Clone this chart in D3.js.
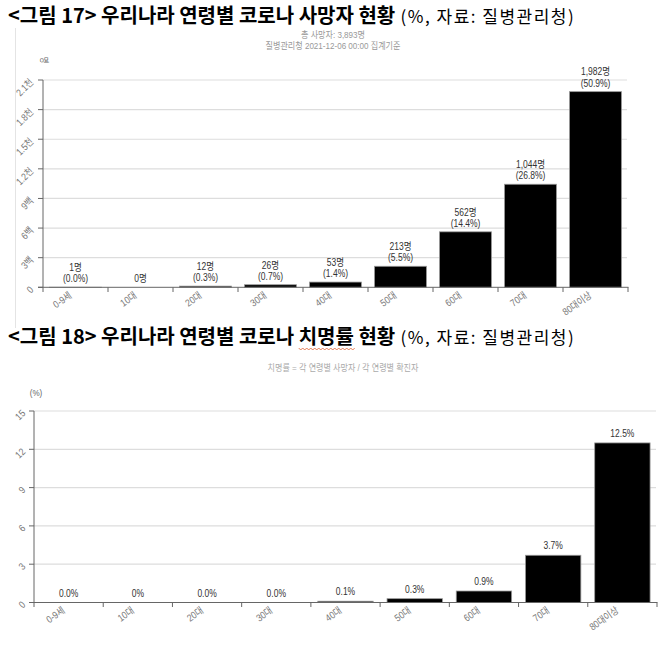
<!DOCTYPE html>
<html><head><meta charset="utf-8">
<script src="https://cdn.jsdelivr.net/npm/d3@7"></script>
<style>
html,body{margin:0;padding:0;background:#fff;}
svg{display:block;font-family:"Noto Sans CJK KR","Noto Sans",sans-serif;}
</style></head>
<body>
<svg id="chart" width="665" height="647"></svg>
<script>
// ---------- data ----------
const ageGroups = ["0-9세","10대","20대","30대","40대","50대","60대","70대","80대이상"];
const deaths = [1, 0, 12, 26, 53, 213, 562, 1044, 1982];
const deathShare = ["0.0", null, "0.3", "0.7", "1.4", "5.5", "14.4", "26.8", "50.9"];
const deathTicks = [0, 300, 600, 900, 1200, 1500, 1800, 2100];
const deathTickLabels = ["0","3백","6백","9백","1.2천","1.5천","1.8천","2.1천"];
const fatality = [0.0, 0, 0.0, 0.0, 0.1, 0.3, 0.9, 3.7, 12.5];
const fatalityLabels = ["0.0%","0%","0.0%","0.0%","0.1%","0.3%","0.9%","3.7%","12.5%"];
const fatalityTicks = [0, 3, 6, 9, 12, 15];

const title1 = "<그림 17> 우리나라 연령별 코로나 사망자 현황";
const title2a = "<그림 18> 우리나라 연령별 코로나 ";
const title2b = "치명률";
const title2c = " 현황";
const titleNote = " (%, 자료: 질병관리청)";
const sub1a = "총 사망자: 3,893명";
const sub1b = "질병관리청 2021-12-06 00:00 집계기준";
const sub2 = "치명률 = 각 연령별 사망자 / 각 연령별 확진자";

const svg = d3.select("#chart");
const SX = 0.85; // horizontal condensation of small chart text
const SMALL_FONT = "'Liberation Sans','Noto Sans CJK KR',sans-serif";

function cText(parent, x, y, lines, o = {}) {
  const g = parent.append("g")
    .attr("transform", `translate(${x},${y}) rotate(${o.rot||0}) scale(${o.sx||SX},1)`);
  const arr = Array.isArray(lines) ? lines : [lines];
  const lh = o.lh || 10.5;
  arr.forEach((s, k) => {
    g.append("text")
      .attr("font-family", o.font || SMALL_FONT)
      .attr("text-anchor", o.anchor || "middle")
      .attr("font-size", o.size || 10)
      .attr("fill", o.fill || "#333")
      .attr("y", (k - (arr.length - 1)) * lh).text(s);
  });
  return g;
}

// frame line at left of first chart image
svg.append("line").attr("x1",15.5).attr("x2",15.5).attr("y1",28).attr("y2",328)
  .attr("stroke","#e4e4e4");

// ---------- titles ----------
const t1 = svg.append("text").attr("x", 8).attr("y", 23);
t1.append("tspan").text(title1).attr("font-size", 20).attr("font-weight", "bold").attr("fill","#000");
t1.append("tspan").text(titleNote).attr("font-size", 17).attr("letter-spacing", 1.5).attr("fill","#000");

const t2 = svg.append("text").attr("x", 8).attr("y", 344);
t2.append("tspan").text(title2a).attr("font-size", 20).attr("font-weight", "bold").attr("fill","#000");
t2.append("tspan").text(title2b).attr("font-size", 20).attr("font-weight", "bold").attr("fill","#000");
t2.append("tspan").text(title2c).attr("font-size", 20).attr("font-weight", "bold").attr("fill","#000");
t2.append("tspan").text(titleNote).attr("font-size", 17).attr("letter-spacing", 1.5).attr("fill","#000");
// spell-check squiggle under 치명률
(function(){
  const node = t2.node();
  const i0 = title2a.length, i1 = i0 + title2b.length - 1;
  const xs = node.getStartPositionOfChar(i0).x, xe = node.getEndPositionOfChar(i1).x;
  let d = `M${xs},348`;
  for (let x = xs, k = 0; x < xe; x += 2, k++) d += `L${x+2},${k%2? 348 : 350}`;
  svg.append("path").attr("d", d).attr("fill","none").attr("stroke","#e06030").attr("stroke-width",0.8);
})();

// ---------- chart 1 ----------
cText(svg, 333, 49, [sub1a, sub1b], {size: 9.5, fill: "#999", lh: 11, sx: 0.85});
svg.append("g").attr("transform","translate(41,60) rotate(90) scale(0.8,1)")
  .append("text").text("명").attr("font-size",9).attr("fill","#666").attr("text-anchor","middle");

const x1 = d3.scaleBand().domain(ageGroups).range([43, 628]).paddingInner(0.2).paddingOuter(0.1);
const y1 = d3.scaleLinear().domain([0, 2100]).range([287.3, 80]);
const c1 = svg.append("g");
svg.append("clipPath").attr("id","clip1").append("rect").attr("x",16).attr("y",28).attr("width",640).attr("height",300);
const c1clip = svg.append("g").attr("clip-path","url(#clip1)");

c1.selectAll("line.grid").data(deathTicks.slice(1)).join("line")
  .attr("x1", 43).attr("x2", 627).attr("y1", d => y1(d)).attr("y2", d => y1(d))
  .attr("stroke", "#ddd").attr("stroke-width", 1.2);
c1.selectAll("rect.bar").data(deaths).join("rect")
  .attr("x", (d,i) => x1(ageGroups[i])).attr("width", x1.bandwidth())
  .attr("y", d => y1(d)).attr("height", d => y1(0) - y1(d))
  .attr("fill", "#000").attr("stroke", "#999").attr("stroke-width", 0.8);
// axes
c1.append("line").attr("x1",43).attr("x2",43).attr("y1",80).attr("y2",287.3).attr("stroke","#666");
c1.append("line").attr("x1",38).attr("x2",628.5).attr("y1",287.3).attr("y2",287.3).attr("stroke","#666");
deathTicks.forEach((v,i) => {
  c1.append("line").attr("x1",38).attr("x2",43).attr("y1",y1(v)).attr("y2",y1(v)).attr("stroke","#666");
  cText(c1clip, 34, y1(v)+3, deathTickLabels[i], {anchor:"end", rot:-45, size:10, fill:"#777", sx:0.85});
});
const step1 = x1.step();
ageGroups.forEach((g,i) => {
  const bx = x1(g) - step1*0.1;
  c1.append("line").attr("x1",bx).attr("x2",bx).attr("y1",287.3).attr("y2",292).attr("stroke","#666");
  const cx = x1(g) + x1.bandwidth()/2;
  cText(c1, cx - 3, 297, g, {anchor:"end", rot:-35, size:10, fill:"#777", sx:0.85});
});
c1.append("line").attr("x1",628).attr("x2",628).attr("y1",287.3).attr("y2",292).attr("stroke","#666");
// value labels
deaths.forEach((d,i) => {
  const cx = x1(ageGroups[i]) + x1.bandwidth()/2;
  const top = y1(d);
  const lab = d3.format(",")(d) + "명";
  const lines = deathShare[i] === null ? [lab] : [lab, "(" + deathShare[i] + "%)"];
  cText(c1, cx, top - 5, lines, {size: 10, fill:"#333", lh: 11.2});
});

// ---------- chart 2 ----------
cText(svg, 343, 371, sub2, {size: 9.5, fill: "#aaa", sx: 0.85});
cText(svg, 36, 396, "(%)", {size: 9.5, fill:"#666", anchor:"middle"});

const x2 = d3.scaleBand().domain(ageGroups).range([34, 657]).paddingInner(0.2).paddingOuter(0.1);
const y2 = d3.scaleLinear().domain([0, 15]).range([602.5, 411]);
const c2 = svg.append("g");
c2.selectAll("line.grid").data(fatalityTicks.slice(1)).join("line")
  .attr("x1", 34).attr("x2", 656).attr("y1", d => y2(d)).attr("y2", d => y2(d))
  .attr("stroke", "#ddd").attr("stroke-width", 1.2);
c2.selectAll("rect.bar").data(fatality).join("rect")
  .attr("x", (d,i) => x2(ageGroups[i])).attr("width", x2.bandwidth())
  .attr("y", d => y2(d)).attr("height", d => y2(0) - y2(d))
  .attr("fill", "#000").attr("stroke", d => d > 0 ? "#999" : "none").attr("stroke-width", 0.8);
c2.append("line").attr("x1",34).attr("x2",34).attr("y1",411).attr("y2",602.5).attr("stroke","#666");
c2.append("line").attr("x1",29).attr("x2",657.5).attr("y1",602.5).attr("y2",602.5).attr("stroke","#666");
fatalityTicks.forEach(v => {
  c2.append("line").attr("x1",29).attr("x2",34).attr("y1",y2(v)).attr("y2",y2(v)).attr("stroke","#666");
  cText(c2, 26, y2(v)+3, String(v), {anchor:"end", rot:-45, size:10, fill:"#777", sx:0.85});
});
const step2 = x2.step();
ageGroups.forEach((g,i) => {
  const bx = x2(g) - step2*0.1;
  c2.append("line").attr("x1",bx).attr("x2",bx).attr("y1",602.5).attr("y2",607).attr("stroke","#666");
  const cx = x2(g) + x2.bandwidth()/2;
  cText(c2, cx - 3, 612, g, {anchor:"end", rot:-35, size:10, fill:"#777", sx:0.85});
});
c2.append("line").attr("x1",657).attr("x2",657).attr("y1",602.5).attr("y2",607).attr("stroke","#666");
fatality.forEach((d,i) => {
  const cx = x2(ageGroups[i]) + x2.bandwidth()/2;
  cText(c2, cx, y2(d) - 6, fatalityLabels[i], {size: 10, fill:"#333"});
});
</script>
</body></html>
